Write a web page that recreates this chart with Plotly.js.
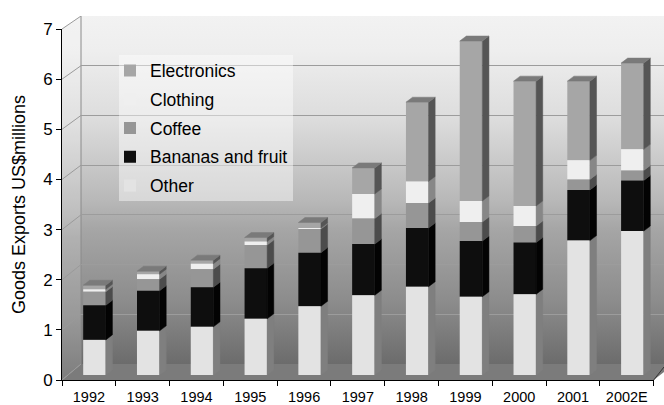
<!DOCTYPE html>
<html>
<head>
<meta charset="utf-8">
<script src="https://cdn.plot.ly/plotly-3.0.1.min.js"></script>
<style>html,body{margin:0;padding:0;background:#fff;}#chart{width:664px;height:405px;}</style>
</head>
<body>
<div id="chart"></div>
<script>
// ---- data ----
const categories = ['1992','1993','1994','1995','1996','1997','1998','1999','2000','2001','2002E'];
const other       = [0.70, 0.88, 0.96, 1.12, 1.37, 1.59, 1.76, 1.56, 1.61, 2.68, 2.87];
const bananas     = [0.69, 0.80, 0.79, 1.01, 1.07, 1.02, 1.17, 1.11, 1.03, 1.01, 1.01];
const coffee      = [0.27, 0.23, 0.36, 0.46, 0.47, 0.51, 0.50, 0.38, 0.33, 0.21, 0.20];
const clothing    = [0.05, 0.10, 0.11, 0.07, 0.02, 0.49, 0.43, 0.42, 0.40, 0.38, 0.42];
const electronics = [0.08, 0.06, 0.07, 0.08, 0.11, 0.52, 1.58, 3.19, 2.49, 1.58, 1.72];
const yTicks = [0, 1, 2, 3, 4, 5, 6, 7];
const yTitle = 'Goods Exports US$millions';

// ---- styling ----
const FONT = 'Liberation Sans, Arial, sans-serif';
const stackOrder = [
  {name: 'Other', vals: other},
  {name: 'Bananas and fruit', vals: bananas},
  {name: 'Coffee', vals: coffee},
  {name: 'Clothing', vals: clothing},
  {name: 'Electronics', vals: electronics}
];
const frontColor = {'Other':'#e3e3e3','Bananas and fruit':'#0e0e0e','Coffee':'#969696','Clothing':'#efefef','Electronics':'#a6a6a6'};
const sideColor  = {'Other':'#7f7f7f','Bananas and fruit':'#030303','Coffee':'#4c4c4c','Clothing':'#878787','Electronics':'#555555'};
const topColor = '#7a7a7a';

// 3-D look parameters (axis units)
const LIFT = 0.1, DX = 0.123, DY = 0.1, BW = 0.42, OFF = -0.106;

const idx = categories.map((c, i) => i);
let cum = categories.map(() => LIFT);
const bases = {};
stackOrder.forEach(s => {
  bases[s.name] = cum.slice();
  cum = cum.map((c, i) => c + s.vals[i]);
});
const tops = cum;

const traces = [];
// front faces (legend order: top of stack first)
stackOrder.slice().reverse().forEach(s => {
  traces.push({
    type: 'bar', name: s.name, x: idx, y: s.vals, base: bases[s.name],
    width: BW, offset: OFF, xaxis: 'x2', yaxis: 'y2',
    marker: {color: frontColor[s.name], line: {width: 0}},
    legendgroup: s.name, hoverinfo: 'skip'
  });
});
// side faces
stackOrder.forEach(s => {
  const xs = [], ys = [];
  idx.forEach(i => {
    const xr = i + OFF + BW, b = bases[s.name][i], t = b + s.vals[i];
    xs.push(xr, xr + DX, xr + DX, xr, xr, null);
    ys.push(b, b + DY, t + DY, t, b, null);
  });
  traces.push({
    type: 'scatter', mode: 'lines', x: xs, y: ys, fill: 'toself',
    fillcolor: sideColor[s.name], line: {color: sideColor[s.name], width: 0.5},
    xaxis: 'x2', yaxis: 'y2', showlegend: false, hoverinfo: 'skip'
  });
});
// top faces
(function () {
  const xs = [], ys = [];
  idx.forEach(i => {
    const xl = i + OFF, xr = i + OFF + BW, t = tops[i];
    xs.push(xl, xl + DX, xr + DX, xr, xl, null);
    ys.push(t, t + DY, t + DY, t, t, null);
  });
  traces.push({
    type: 'scatter', mode: 'lines', x: xs, y: ys, fill: 'toself',
    fillcolor: topColor, line: {color: topColor, width: 0.5},
    xaxis: 'x2', yaxis: 'y2', showlegend: false, hoverinfo: 'skip'
  });
})();
// dummy trace so the back-wall subplot exists
traces.push({type: 'scatter', mode: 'markers', x: [0.5], y: [0], xaxis: 'x', yaxis: 'y',
  marker: {opacity: 0}, showlegend: false, hoverinfo: 'skip'});

// ---- walls (background picture) ----
const PW = 602, PH = 364;               // plot area in px
const backL = 19, backB = 348;           // back wall left edge / floor line (local px)
const frontB = 364, frontTop = 13;        // front axis 0 and 7 (local px)
const fScale = (frontB - frontTop) / 7, bScale = backB / 7;
let diag = '';
yTicks.forEach(k => {
  diag += `<line x1="0" y1="${frontB - k * fScale}" x2="${backL}" y2="${backB - k * bScale}" stroke="#9a9a9a" stroke-width="1"/>`;
});
const svg = `<svg xmlns="http://www.w3.org/2000/svg" width="${PW}" height="${PH}" viewBox="0 0 ${PW} ${PH}" preserveAspectRatio="none">
<defs><linearGradient id="g" x1="0" y1="0" x2="0" y2="1">
<stop offset="0" stop-color="#f2f2f2"/><stop offset="0.1" stop-color="#eeeeee"/><stop offset="0.3" stop-color="#dcdcdc"/>
<stop offset="0.53" stop-color="#b8b8b8"/><stop offset="0.61" stop-color="#a6a6a6"/><stop offset="0.82" stop-color="#8c8c8c"/>
<stop offset="1" stop-color="#6c6c6c"/></linearGradient></defs>
<rect x="${backL}" y="0" width="${PW - backL}" height="${backB}" fill="url(#g)"/>
<polygon points="0,${frontTop} ${backL},0 ${backL},${backB} 0,${frontB}" fill="url(#g)"/>
<polygon points="0,${frontTop} ${backL},0 ${backL},${backB} 0,${frontB}" fill="#ffffff" fill-opacity="0.12"/>
<polygon points="0,${frontB} ${backL},${backB} ${PW + 10},${backB} 591.7,${frontB}" fill="#7b7b7b"/>
<line x1="${backL}" y1="0" x2="${backL}" y2="${backB}" stroke="#8a8a8a" stroke-width="1"/>
${diag}
<line x1="591.7" y1="${frontB}" x2="${PW}" y2="351" stroke="#333" stroke-width="1"/>
</svg>`;
const svgURI = 'data:image/svg+xml;base64,' + btoa(svg);

const layout = {
  width: 664, height: 405,
  margin: {l: 62, r: 0, t: 16, b: 25, pad: 0},
  paper_bgcolor: '#ffffff', plot_bgcolor: 'rgba(0,0,0,0)',
  font: {family: FONT, color: '#000'},
  barmode: 'overlay', showlegend: true,
  xaxis: {domain: [19 / 602, 1], range: [0, 1], visible: false, fixedrange: true},
  yaxis: {domain: [16 / 364, 1], range: [0, 7], tickvals: yTicks, showgrid: true,
          gridcolor: '#9c9c9c', gridwidth: 1, showticklabels: false, ticks: '',
          zeroline: false, showline: false, fixedrange: true},
  xaxis2: {domain: [0, 591.7 / 602], range: [-0.5, 10.5], anchor: 'y2',
           tickmode: 'array', tickvals: idx, ticktext: categories, ticks: '',
           ticklabelstandoff: 4,
           tickfont: {size: 14.5, family: FONT}, showline: true, linecolor: '#000', linewidth: 1,
           showgrid: false, zeroline: false, fixedrange: true,
           minor: {ticks: 'outside', ticklen: 5, tick0: 0.5, dtick: 1, tickcolor: '#000', tickwidth: 1, showgrid: false}},
  yaxis2: {domain: [0, 351 / 364], range: [0, 7], anchor: 'x2', tickvals: yTicks,
           ticks: 'outside', ticklen: 5, tickcolor: '#000', tickwidth: 1,
           tickfont: {size: 17, family: FONT}, showline: true, linecolor: '#000', linewidth: 1,
           showgrid: false, zeroline: false, fixedrange: true,
           title: {text: yTitle, font: {size: 18, family: FONT}, standoff: 12}},
  legend: {x: (110 - 62) / 602, y: 1 - (52.5 - 16) / 364, xanchor: 'left', yanchor: 'top',
           bgcolor: 'rgba(0,0,0,0)', borderwidth: 0, font: {size: 17.5, family: FONT},
           traceorder: 'grouped', tracegroupgap: 3},
  images: [{source: svgURI, xref: 'paper', yref: 'paper', x: 0, y: 1, sizex: 1, sizey: 1,
            xanchor: 'left', yanchor: 'top', sizing: 'stretch', layer: 'below'}],
  shapes: [{type: 'rect', xref: 'paper', yref: 'paper', x0: (119 - 62) / 602, x1: (293 - 62) / 602,
            y0: 1 - (201 - 16) / 364, y1: 1 - (55 - 16) / 364,
            fillcolor: 'rgba(255,255,255,0.45)', line: {width: 0}, layer: 'above'}]
};

Plotly.newPlot('chart', traces, layout, {displayModeBar: false, staticPlot: true});
</script>
</body>
</html>
